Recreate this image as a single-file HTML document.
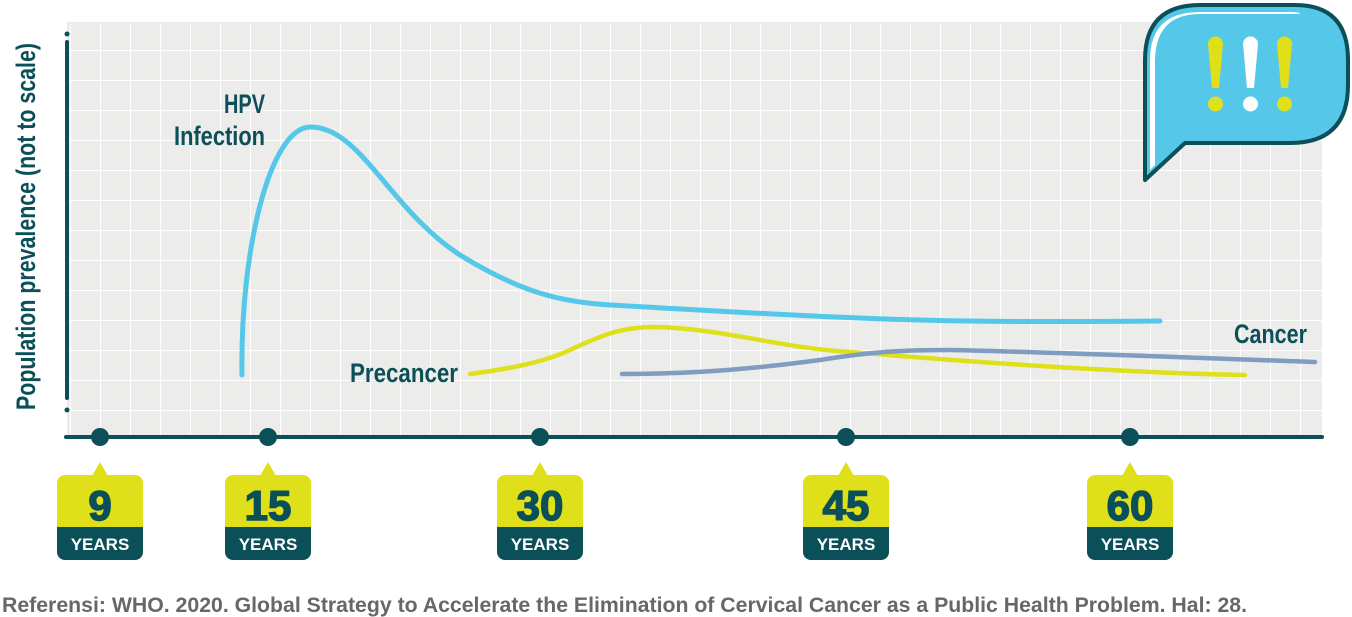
<!DOCTYPE html>
<html><head><meta charset="utf-8"><style>
body{margin:0;background:#fff;width:1352px;height:617px;overflow:hidden}
svg{display:block}
.c{font-family:"Liberation Sans",sans-serif;font-weight:bold;fill:#0b4f58}
</style></head><body>
<svg width="1352" height="617" viewBox="0 0 1352 617">
<defs>
<pattern id="g" x="10" y="20" width="30" height="30" patternUnits="userSpaceOnUse">
<rect width="30" height="30" fill="#ececea"/>
<path d="M0 0V30M0 0H30" stroke="#fff" stroke-width="2"/>
</pattern>
</defs>
<rect x="67" y="22" width="1255" height="413" fill="url(#g)"/>
<rect x="67" y="22" width="1255" height="2" fill="#ececea"/>
<line x1="67" y1="42" x2="67" y2="398" stroke="#0b4f58" stroke-width="4" stroke-linecap="round"/>
<circle cx="67" cy="34" r="2.5" fill="#0b4f58"/>
<circle cx="67" cy="410" r="2.5" fill="#0b4f58"/>
<line x1="66" y1="437" x2="1322" y2="437" stroke="#0b4f58" stroke-width="4" stroke-linecap="round"/>
<g fill="#0b4f58"><circle cx="100" cy="437" r="9"/><circle cx="268" cy="437" r="9"/><circle cx="540" cy="437" r="9"/><circle cx="846" cy="437" r="9"/><circle cx="1130" cy="437" r="9"/></g>
<path d="M242 375 C240 250 270 128 310 127 C360 126 390 210 460 255 C520 292 560 302 610 305 C700 310 800 316 860 318 C950 322 1050 322 1160 321" fill="none" stroke="#55c7e8" stroke-width="5" stroke-linecap="round"/>
<path d="M470 374 C500 370 540 364 570 350 C600 336 620 327 655 327 C720 328 780 348 850 352 C950 360 1100 372 1245 375" fill="none" stroke="#dfe01a" stroke-width="4.5" stroke-linecap="round"/>
<path d="M622 374 C700 374 760 368 820 360 C870 352 900 350 950 350 C1050 352 1200 358 1315 362" fill="none" stroke="#7f9dc0" stroke-width="4.5" stroke-linecap="round"/>
<text class="c" font-size="27" x="224" y="113" textLength="41" lengthAdjust="spacingAndGlyphs">HPV</text>
<text class="c" font-size="27" x="174" y="145" textLength="91" lengthAdjust="spacingAndGlyphs">Infection</text>
<text class="c" font-size="27" x="350" y="382" textLength="108" lengthAdjust="spacingAndGlyphs">Precancer</text>
<text class="c" font-size="27" x="1234" y="343" textLength="73" lengthAdjust="spacingAndGlyphs">Cancer</text>
<text class="c" font-size="27" transform="translate(35,410) rotate(-90)" textLength="367" lengthAdjust="spacingAndGlyphs">Population prevalence (not to scale)</text>
<path d="M1145 180 L1145 60 Q1145 5 1200 5 L1295 5 Q1348 5 1348 60 L1348 85 Q1348 143 1290 143 L1185 143 Z" fill="#55c7e8" stroke="#0b4f58" stroke-width="4" stroke-linejoin="round"/>
<path d="M1150 170 L1150 60 Q1150 12 1200 12 L1290 12 Q1300 12 1300 14 L1200 14 Q1155 14 1155 62 L1155 165 Z" fill="#fff"/>
<g fill="#dfe01a"><path d="M1208 44a7.5 7.5 0 0 1 15 0L1219 88h-7Z"/><circle cx="1215.5" cy="104" r="7.5"/><path d="M1277 44a7.5 7.5 0 0 1 15 0L1288 88h-7Z"/><circle cx="1284.5" cy="104" r="7.5"/></g>
<g fill="#fff"><path d="M1243 44a7.5 7.5 0 0 1 15 0L1254 88h-7Z"/><circle cx="1250.5" cy="104" r="7.5"/></g>
<g font-family="'Liberation Sans',sans-serif" font-weight="bold" text-anchor="middle">
<g transform="translate(100,0)"><path d="M-8 476 L0 462 L8 476Z" fill="#dfe01a"/><rect x="-43" y="475" width="86" height="85" rx="8" fill="#dfe01a"/><path d="M-43 527H43V552a8 8 0 0 1-8 8H-35a8 8 0 0 1-8-8Z" fill="#0b4f58"/><text y="520" font-size="42" fill="#0b4f58" stroke="#0b4f58" stroke-width="1.5">9</text><text y="550" font-size="17" fill="#fff">YEARS</text></g>
<g transform="translate(268,0)"><path d="M-8 476 L0 462 L8 476Z" fill="#dfe01a"/><rect x="-43" y="475" width="86" height="85" rx="8" fill="#dfe01a"/><path d="M-43 527H43V552a8 8 0 0 1-8 8H-35a8 8 0 0 1-8-8Z" fill="#0b4f58"/><text y="520" font-size="42" fill="#0b4f58" stroke="#0b4f58" stroke-width="1.5">15</text><text y="550" font-size="17" fill="#fff">YEARS</text></g>
<g transform="translate(540,0)"><path d="M-8 476 L0 462 L8 476Z" fill="#dfe01a"/><rect x="-43" y="475" width="86" height="85" rx="8" fill="#dfe01a"/><path d="M-43 527H43V552a8 8 0 0 1-8 8H-35a8 8 0 0 1-8-8Z" fill="#0b4f58"/><text y="520" font-size="42" fill="#0b4f58" stroke="#0b4f58" stroke-width="1.5">30</text><text y="550" font-size="17" fill="#fff">YEARS</text></g>
<g transform="translate(846,0)"><path d="M-8 476 L0 462 L8 476Z" fill="#dfe01a"/><rect x="-43" y="475" width="86" height="85" rx="8" fill="#dfe01a"/><path d="M-43 527H43V552a8 8 0 0 1-8 8H-35a8 8 0 0 1-8-8Z" fill="#0b4f58"/><text y="520" font-size="42" fill="#0b4f58" stroke="#0b4f58" stroke-width="1.5">45</text><text y="550" font-size="17" fill="#fff">YEARS</text></g>
<g transform="translate(1130,0)"><path d="M-8 476 L0 462 L8 476Z" fill="#dfe01a"/><rect x="-43" y="475" width="86" height="85" rx="8" fill="#dfe01a"/><path d="M-43 527H43V552a8 8 0 0 1-8 8H-35a8 8 0 0 1-8-8Z" fill="#0b4f58"/><text y="520" font-size="42" fill="#0b4f58" stroke="#0b4f58" stroke-width="1.5">60</text><text y="550" font-size="17" fill="#fff">YEARS</text></g>
</g>
<text x="2" y="612" font-family="'Liberation Sans',sans-serif" font-weight="bold" font-size="21" fill="#65676a" textLength="1245" lengthAdjust="spacingAndGlyphs">Referensi: WHO. 2020. Global Strategy to Accelerate the Elimination of Cervical Cancer as a Public Health Problem. Hal: 28.</text>
</svg>
</body></html>
